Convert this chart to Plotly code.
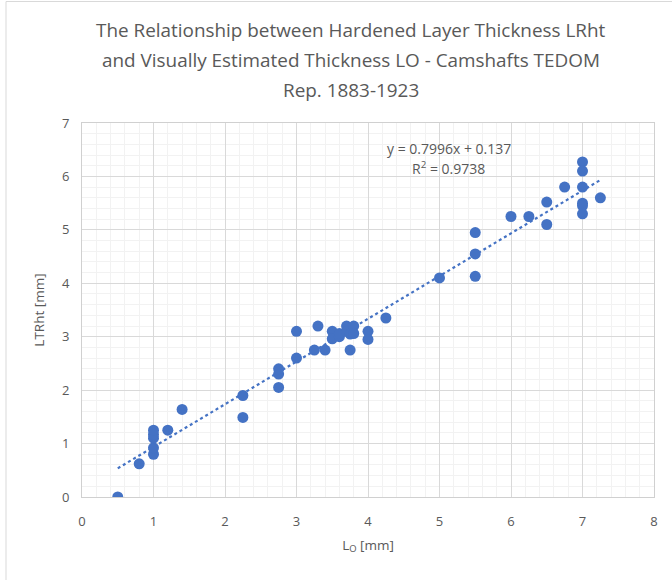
import plotly.graph_objects as go

# Data
lo_mm = [0.5, 0.8, 1.0, 1.0, 1.0, 1.0, 1.0, 1.2, 1.4,
         2.25, 2.25, 2.75, 2.75, 2.75, 3.0, 3.0,
         3.25, 3.3, 3.4, 3.5, 3.5, 3.6, 3.6, 3.7, 3.7, 3.75, 3.75, 3.8, 3.8,
         4.0, 4.0, 4.25, 5.0, 5.5, 5.5, 5.5, 6.0, 6.25, 6.5, 6.5, 6.75,
         7.0, 7.0, 7.0, 7.0, 7.0, 7.0, 7.25]
lrht_mm = [0.0, 0.62, 0.8, 0.92, 1.1, 1.17, 1.25, 1.25, 1.64,
           1.9, 1.49, 2.05, 2.3, 2.4, 2.6, 3.1,
           2.75, 3.2, 2.75, 3.1, 2.96, 3.0, 3.06, 3.2, 3.1, 3.05, 2.75, 3.2, 3.06,
           3.1, 2.95, 3.35, 4.1, 4.95, 4.55, 4.13, 5.25, 5.25, 5.52, 5.1, 5.8,
           6.27, 6.1, 5.8, 5.5, 5.45, 5.3, 5.6]
slope = 0.7996
intercept = 0.137
r2 = 0.9738
x_ticks = [0, 1, 2, 3, 4, 5, 6, 7, 8]
y_ticks = [0, 1, 2, 3, 4, 5, 6, 7]
title_lines = ["The Relationship between Hardened Layer Thickness LRht",
               "and Visually Estimated Thickness LO - Camshafts TEDOM",
               "Rep. 1883-1923"]

blue = "#4472C4"
gray_text = "#595959"
font_family = "Open Sans, Liberation Sans, sans-serif"

trend_x = [min(lo_mm), max(lo_mm)]
trend_y = [slope * v + intercept for v in trend_x]

fig = go.Figure()
fig.add_trace(go.Scatter(x=trend_x, y=trend_y, mode="lines",
                         line=dict(color=blue, width=2.2, dash="dot"),
                         hoverinfo="skip", showlegend=False))
fig.add_trace(go.Scatter(x=lo_mm, y=lrht_mm, mode="markers",
                         marker=dict(color=blue, size=11),
                         showlegend=False))

axis_common = dict(
    showgrid=True, gridcolor="#D9D9D9", gridwidth=1,
    minor=dict(dtick=0.2, showgrid=True, gridcolor="#F2F2F2", gridwidth=1),
    showline=True, linecolor="#D0D0D0", linewidth=1, mirror=True,
    zeroline=False, ticks="outside", tickcolor="rgba(0,0,0,0)",
    tickfont=dict(family=font_family, size=13, color=gray_text),
)

fig.update_xaxes(range=[0, 8], tickvals=x_ticks, ticklen=12, **axis_common,
                 title=dict(text="L<sub>O</sub> [mm]", standoff=11,
                            font=dict(family=font_family, size=13.5, color=gray_text)))
fig.update_yaxes(range=[0, 7], tickvals=y_ticks, ticklen=9, **axis_common,
                 title=dict(text="LTRht [mm]", standoff=14,
                            font=dict(family=font_family, size=13.5, color=gray_text)))

eq_lines = ["y = %.4fx + %.3f" % (slope, intercept),
            "R<sup>2</sup> = %.4f" % r2]
for i, t in enumerate(eq_lines):
    fig.add_annotation(xref="x", yref="y", x=5.13,
                       y=(497 - (148 + 19.5 * i)) / 53.43,
                       text=t, showarrow=False, yanchor="middle",
                       font=dict(family=font_family, size=14, color=gray_text))

for i, line in enumerate(title_lines):
    fig.add_annotation(xref="paper", yref="paper",
                       x=(351 - 82) / 572, y=(497 - (30 + 30 * i)) / 374,
                       xanchor="center", yanchor="middle", showarrow=False,
                       text=line,
                       font=dict(family=font_family, size=18.9, color=gray_text))

# outer chart border (left & top visible in the reference)
fig.add_shape(type="line", xref="paper", yref="paper",
              x0=(6 - 82) / 572, x1=(6 - 82) / 572,
              y0=(497 - 585) / 374, y1=(497 - 1.5) / 374,
              line=dict(color="#D9D9D9", width=1))
fig.add_shape(type="line", xref="paper", yref="paper",
              x0=(6 - 82) / 572, x1=(680 - 82) / 572,
              y0=(497 - 1.5) / 374, y1=(497 - 1.5) / 374,
              line=dict(color="#D9D9D9", width=1))

fig.update_layout(
    width=672, height=580, autosize=False,
    margin=dict(l=82, r=18, t=123, b=83),
    paper_bgcolor="white", plot_bgcolor="white",
)

fig.write_html("out.html",
               config={"displayModeBar": False},
               post_script="document.body.style.margin='0';"
                           "document.body.style.overflow='hidden';")
